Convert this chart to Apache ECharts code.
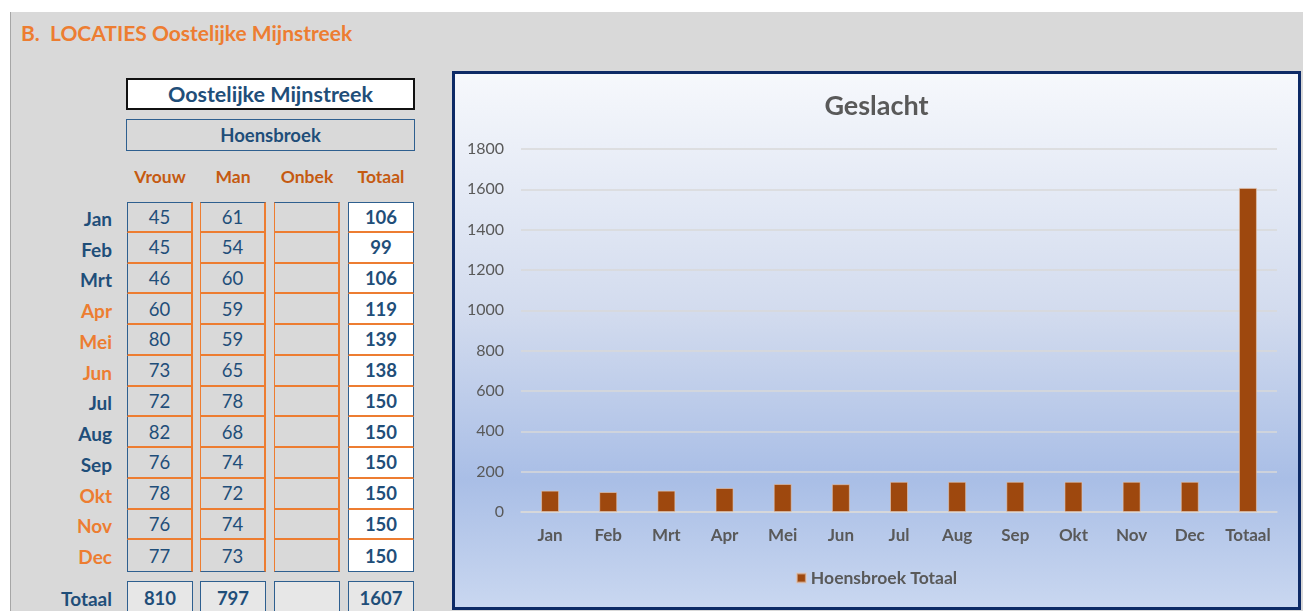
<!DOCTYPE html>
<html>
<head>
<meta charset="utf-8">
<script src="https://cdn.jsdelivr.net/npm/echarts@6/dist/echarts.min.js"></script>
<style>
  html, body { margin:0; padding:0; width:1303px; height:611px; overflow:hidden; background:#fff; font-family: Lato, "Open Sans", sans-serif; }
  #panel { position:absolute; left:10px; top:12px; width:1293px; height:599px; background:#d9d9d9; border-left:1px solid #a6a6a6; box-sizing:border-box; }
  .abs { position:absolute; box-sizing:border-box; }
  .ctr { display:flex; align-items:center; justify-content:center; }
  #title { left:21px; top:20px; font-size:21px; font-weight:bold; color:#ED7D31; white-space:pre; line-height:26px; }
  #box1 { left:126px; top:78px; width:289px; height:32px; border:2px solid #111; background:#fff; font-size:21.5px; font-weight:bold; color:#1F4E79; }
  #box2 { left:126px; top:119px; width:289px; height:32px; border:1.5px solid #2E5F8F; background:#d9d9d9; font-size:18.5px; font-weight:bold; color:#1F4E79; }
  .hdr { top:164px; height:24px; width:74px; font-size:17.5px; font-weight:bold; color:#C55A11; }
  .lbl { left:20px; width:92px; text-align:right; font-size:19px; font-weight:bold; justify-content:flex-end; }
  .cell { font-size:18.5px; color:#1F4E79; }
  #chartBox { left:452px; top:71px; width:849px; height:539px; border:3px solid #0d2a66; }
  #chart { width:843px; height:533px; }
</style>
</head>
<body>
<div id="panel"></div>
<div id="title" class="abs">B.  LOCATIES Oostelijke Mijnstreek</div>
<div id="box1" class="abs ctr">Oostelijke Mijnstreek</div>
<div id="box2" class="abs ctr">Hoensbroek</div>
<div id="table"></div>
<div id="chartBox" class="abs"><div id="chart"></div></div>
<script>
// ---- data ----
const months = ['Jan','Feb','Mrt','Apr','Mei','Jun','Jul','Aug','Sep','Okt','Nov','Dec'];
const headers = ['Vrouw','Man','Onbek','Totaal'];
const vrouw = [45,45,46,60,80,73,72,82,76,78,76,77];
const man = [61,54,60,59,59,65,78,68,74,72,74,73];
const onbek = ['','','','','','','','','','','',''];
const totaal = [106,99,106,119,139,138,150,150,150,150,150,150];
const totals = [810,797,'',1607];
const monthColors = ['#1F4E79','#1F4E79','#1F4E79','#ED7D31','#ED7D31','#ED7D31','#1F4E79','#1F4E79','#1F4E79','#ED7D31','#ED7D31','#ED7D31'];
const chartCategories = ['Jan','Feb','Mrt','Apr','Mei','Jun','Jul','Aug','Sep','Okt','Nov','Dec','Totaal'];
const chartValues = [106,99,106,119,139,138,150,150,150,150,150,150,1607];
const yTicks = [0,200,400,600,800,1000,1200,1400,1600,1800];
const chartTitle = 'Geslacht';
const seriesName = 'Hoensbroek Totaal';

// ---- table ----
const T = document.getElementById('table');
const colX = [127,200,274,348];
const colW = 66;
const rowTop = 202, rowH = 30.75;
const BLUE = '#2E5F8F', ORANGE = '#ED7D31';
function el(cls, style, text) {
  const d = document.createElement('div');
  d.className = cls;
  Object.assign(d.style, style);
  if (text !== undefined) d.textContent = text;
  T.appendChild(d);
  return d;
}
headers.forEach((h, i) => {
  el('abs ctr hdr', { left: (colX[i] + colW/2 - 37) + 'px' }, h);
});
const cols = [vrouw, man, onbek, totaal];
const leftB = [BLUE, ORANGE, ORANGE, BLUE];
const rightB = [ORANGE, ORANGE, ORANGE, BLUE];
cols.forEach((arr, c) => {
  arr.forEach((v, r) => {
    const last = r === arr.length - 1;
    el('abs ctr cell', {
      left: colX[c] + 'px', top: (rowTop + r*rowH) + 'px', width: colW + 'px', height: (rowH + (last?1:0)) + 'px',
      background: c === 3 ? '#ffffff' : '#d9d9d9',
      borderLeft: '1.5px solid ' + leftB[c], borderRight: (c===3?'1.5px':'2px') + ' solid ' + rightB[c],
      borderTop: r === 0 ? '1.5px solid ' + BLUE : 'none',
      borderBottom: last ? '1.5px solid ' + BLUE : '2px solid ' + ORANGE,
      fontWeight: c === 3 ? 'bold' : 'normal'
    }, String(v));
  });
});
months.forEach((m, r) => {
  el('abs ctr lbl', { top: (rowTop + r*rowH + 1) + 'px', height: rowH + 'px', color: monthColors[r] }, m);
});
el('abs ctr lbl', { top: '582px', height: '32px', color: '#1F4E79' }, 'Totaal');
totals.forEach((v, c) => {
  el('abs ctr cell', {
    left: colX[c] + 'px', top: '581px', width: colW + 'px', height: '34px',
    background: '#e7e7e7', border: '1.5px solid ' + BLUE, fontWeight: 'bold'
  }, String(v));
});

// ---- chart ----
const chart = echarts.init(document.getElementById('chart'), null, { renderer: 'canvas' });
const textFont = 'Lato, "Open Sans", sans-serif';
chart.setOption({
  animation: false,
  backgroundColor: new echarts.graphic.LinearGradient(0, 0, 0, 1, [
    { offset: 0, color: '#f6f8fc' },
    { offset: 0.45, color: '#d2dbee' },
    { offset: 0.76, color: '#a9bee6' },
    { offset: 1, color: '#c9d7f0' }
  ]),
  title: {
    text: chartTitle, left: 'center', top: 14,
    textStyle: { fontFamily: textFont, fontSize: 27, fontWeight: 'bold', color: '#595959' }
  },
  legend: {
    data: [seriesName], top: 490, left: 'center',
    itemWidth: 9, itemHeight: 9, icon: 'rect', itemGap: 5,
    textStyle: { fontFamily: textFont, fontSize: 17.5, fontWeight: 'bold', color: '#595959' }
  },
  grid: { left: 66, right: 21, top: 75, bottom: 95, containLabel: false },
  xAxis: {
    type: 'category', data: chartCategories,
    axisLine: { lineStyle: { color: '#d9d9d9', width: 1.5 } },
    axisTick: { show: false },
    axisLabel: { interval: 0, hideOverlap: false, margin: 15, fontFamily: textFont, fontSize: 17, fontWeight: 'bold', color: '#595959' }
  },
  yAxis: {
    type: 'value', min: 0, max: 1800, interval: 200,
    axisLine: { show: false }, axisTick: { show: false },
    splitLine: { lineStyle: { color: '#d9d9d9', width: 1.5 } },
    axisLabel: { margin: 17, fontFamily: textFont, fontSize: 16, color: '#595959',
      formatter: v => yTicks.includes(v) ? String(v) : '' }
  },
  series: [{
    name: seriesName, type: 'bar', data: chartValues, barWidth: 18,
    itemStyle: { color: '#9E480E', borderColor: 'rgba(230,200,180,0.6)', borderWidth: 1 }
  }]
});
</script>
</body>
</html>
